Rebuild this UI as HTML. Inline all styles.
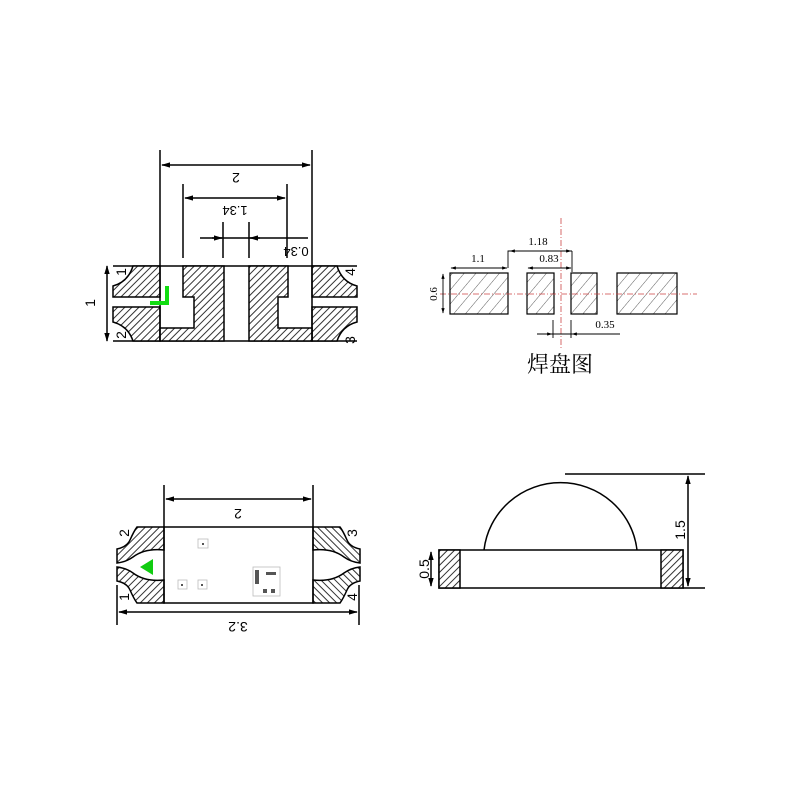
<!DOCTYPE html>
<html><head><meta charset="utf-8"><style>body{margin:0;background:#fff}svg{display:block}text{font-family:"Liberation Sans","Noto Sans CJK SC",sans-serif;fill:#000}</style></head>
<body>
<svg width="800" height="800" viewBox="0 0 800 800" xmlns="http://www.w3.org/2000/svg">
<defs>
<pattern id="h" width="5" height="5" patternUnits="userSpaceOnUse" patternTransform="rotate(45)"><rect width="5" height="5" fill="#fff"/><line x1="0" y1="0" x2="0" y2="5" stroke="#333" stroke-width="2"/></pattern>
<pattern id="h2" width="9" height="9" patternUnits="userSpaceOnUse" patternTransform="rotate(40)"><rect width="9" height="9" fill="#fff"/><line x1="0" y1="0" x2="0" y2="9" stroke="#333" stroke-width="0.8"/></pattern>
<marker id="a" viewBox="0 0 10 10" refX="9" refY="5" markerWidth="6" markerHeight="6" orient="auto-start-reverse"><path d="M0,2L10,5L0,8z" fill="#000"/></marker>
</defs>
<g stroke="#000" stroke-width="1.5" fill="none">
<!-- top-left view -->
<line x1="113" y1="266" x2="357" y2="266"/><line x1="113" y1="341" x2="357" y2="341"/>
<path d="M133,266 H160 V297 H113 V286 Q128,282 133,266Z" fill="url(#h)"/>
<path d="M113,307 H160 V341 H133 Q128,326 113,322Z" fill="url(#h)"/>
<path d="M337,266 H312 V297 H357 V286 Q342,282 337,266Z" fill="url(#h)"/>
<path d="M357,307 H312 V341 H337 Q342,326 357,322Z" fill="url(#h)"/>
<path d="M183,266 H224 V341 H160 V328 H194 V297 H183Z" fill="url(#h)"/>
<path d="M249,266 H288 V297 H278 V328 H312 V341 H249Z" fill="url(#h)"/>
<line x1="160" y1="150" x2="160" y2="341"/><line x1="312" y1="150" x2="312" y2="341"/>
<line x1="183" y1="184" x2="183" y2="258"/><line x1="287" y1="184" x2="287" y2="258"/>
<line x1="223" y1="222" x2="223" y2="258"/><line x1="249" y1="222" x2="249" y2="258"/>
<line x1="162" y1="165" x2="310" y2="165" marker-start="url(#a)" marker-end="url(#a)"/>
<line x1="185" y1="198" x2="285" y2="198" marker-start="url(#a)" marker-end="url(#a)"/>
<line x1="200" y1="238" x2="308" y2="238"/>
<line x1="212" y1="238" x2="222" y2="238" marker-end="url(#a)"/><line x1="260" y1="238" x2="250" y2="238" marker-end="url(#a)"/>
<line x1="107" y1="266" x2="107" y2="341" marker-start="url(#a)" marker-end="url(#a)"/>
<polyline points="167,286 167,303 150,303" stroke="#1d1" stroke-width="4"/>
</g>
<g font-size="14">
<text transform="translate(236,173) rotate(180)" text-anchor="middle">2</text>
<text transform="translate(235,206) rotate(180)" text-anchor="middle" font-size="13">1.34</text>
<text transform="translate(296,247) rotate(180)" text-anchor="middle" font-size="13">0.34</text>
<text transform="translate(95,303) rotate(-90)" text-anchor="middle">1</text>
<text transform="translate(126,272) rotate(-90)" text-anchor="middle">1</text>
<text transform="translate(126,335) rotate(-90)" text-anchor="middle">2</text>
<text transform="translate(355,272) rotate(-90)" text-anchor="middle">4</text>
<text transform="translate(355,340) rotate(-90)" text-anchor="middle">3</text>
</g>
<!-- pad diagram -->
<g stroke="#000" stroke-width="1.2">
<rect x="450" y="273" width="58" height="41" fill="url(#h2)"/>
<rect x="527" y="273" width="27" height="41" fill="url(#h2)"/>
<rect x="571" y="273" width="26" height="41" fill="url(#h2)"/>
<rect x="617" y="273" width="60" height="41" fill="url(#h2)"/>
</g>
<g stroke="#c44" stroke-width="0.8" stroke-dasharray="6,2,1,2"><line x1="561" y1="218" x2="561" y2="348"/><line x1="440" y1="294" x2="697" y2="294"/></g>
<g stroke="#000" stroke-width="0.9" fill="none">
<line x1="451" y1="268" x2="507" y2="268" marker-start="url(#a)" marker-end="url(#a)"/>
<polyline points="508,268 508,251 572,251"/><line x1="510" y1="251" x2="571" y2="251" marker-start="url(#a)" marker-end="url(#a)"/>
<line x1="572" y1="251" x2="572" y2="272"/>
<line x1="528" y1="268" x2="571" y2="268" marker-start="url(#a)" marker-end="url(#a)"/>
<line x1="443" y1="274" x2="443" y2="313" marker-start="url(#a)" marker-end="url(#a)"/>
<line x1="537" y1="334" x2="620" y2="334"/><line x1="542" y1="334" x2="552" y2="334" marker-end="url(#a)"/><line x1="580" y1="334" x2="572" y2="334" marker-end="url(#a)"/>
<line x1="553" y1="320" x2="553" y2="338"/><line x1="571" y1="320" x2="571" y2="338"/>
</g>
<g font-size="11">
<text x="478" y="262" text-anchor="middle" style="font-family:'Liberation Serif',serif">1.1</text>
<text x="538" y="245" text-anchor="middle" style="font-family:'Liberation Serif',serif">1.18</text>
<text x="549" y="262" text-anchor="middle" style="font-family:'Liberation Serif',serif">0.83</text>
<text x="605" y="328" text-anchor="middle" style="font-family:'Liberation Serif',serif">0.35</text>
<text transform="translate(437,294) rotate(-90)" text-anchor="middle" style="font-family:'Liberation Serif',serif">0.6</text>
</g>
<text x="560" y="372" text-anchor="middle" font-size="22" style="font-family:'Noto Serif CJK SC','Noto Sans CJK SC',serif">焊盘图</text>
<!-- bottom-left view -->
<g stroke="#000" stroke-width="1.5" fill="none">
<g id="ends">
<path d="M137,527 H164 V550 Q145,548 133,557 Q126,562 117,563 V549 Q127,547 130,540 Q134,531 137,527Z" fill="url(#h)"/>
<path d="M137,603 H164 V580 Q145,582 133,573 Q126,568 117,567 V581 Q127,583 130,590 Q134,599 137,603Z" fill="url(#h)"/>
</g>
<g transform="matrix(-1,0,0,1,477,0)">
<path d="M137,527 H164 V550 Q145,548 133,557 Q126,562 117,563 V549 Q127,547 130,540 Q134,531 137,527Z" fill="url(#h)"/>
<path d="M137,603 H164 V580 Q145,582 133,573 Q126,568 117,567 V581 Q127,583 130,590 Q134,599 137,603Z" fill="url(#h)"/>
</g>
<rect x="164" y="527" width="149" height="76"/>
<line x1="164" y1="485" x2="164" y2="527"/><line x1="313" y1="485" x2="313" y2="527"/>
<line x1="166" y1="499" x2="311" y2="499" marker-start="url(#a)" marker-end="url(#a)"/>
<line x1="117" y1="585" x2="117" y2="625"/><line x1="359" y1="585" x2="359" y2="625"/>
<line x1="119" y1="612" x2="357" y2="612" marker-start="url(#a)" marker-end="url(#a)"/>
</g>
<polygon points="140,567 153,559 153,575" fill="#1c1"/>
<g stroke="#bbb" stroke-width="0.8" fill="none"><rect x="198" y="539" width="10" height="9"/><rect x="178" y="580" width="9" height="9"/><rect x="198" y="580" width="9" height="9"/><rect x="253" y="567" width="27" height="29"/></g>
<g fill="#555"><rect x="202" y="543" width="2" height="2"/><rect x="181" y="584" width="2" height="2"/><rect x="201" y="584" width="2" height="2"/><rect x="255" y="570" width="4" height="14"/><rect x="263" y="589" width="4" height="4"/><rect x="271" y="589" width="4" height="4"/><rect x="266" y="572" width="10" height="3"/></g>
<g font-size="14">
<text transform="translate(238,509) rotate(180)" text-anchor="middle">2</text>
<text transform="translate(238,622) rotate(180)" text-anchor="middle">3.2</text>
<text transform="translate(129,533) rotate(-90)" text-anchor="middle">2</text>
<text transform="translate(129,597) rotate(-90)" text-anchor="middle">1</text>
<text transform="translate(357,533) rotate(-90)" text-anchor="middle">3</text>
<text transform="translate(357,597) rotate(-90)" text-anchor="middle">4</text>
</g>
<!-- bottom-right view -->
<g stroke="#000" stroke-width="1.5" fill="none">
<path d="M484,550 A77,76 0 0 1 637,550"/>
<rect x="439" y="550" width="244" height="38"/>
<rect x="439" y="550" width="21" height="38" fill="url(#h)"/>
<rect x="661" y="550" width="22" height="38" fill="url(#h)"/>
<line x1="565" y1="474" x2="705" y2="474"/><line x1="683" y1="588" x2="705" y2="588"/>
<line x1="688" y1="476" x2="688" y2="586" marker-start="url(#a)" marker-end="url(#a)"/>
<line x1="431" y1="552" x2="431" y2="586" marker-start="url(#a)" marker-end="url(#a)"/>
</g>
<g font-size="14">
<text transform="translate(685,530) rotate(-90)" text-anchor="middle">1.5</text>
<text transform="translate(429,569) rotate(-90)" text-anchor="middle">0.5</text>
</g>
</svg>
</body></html>
